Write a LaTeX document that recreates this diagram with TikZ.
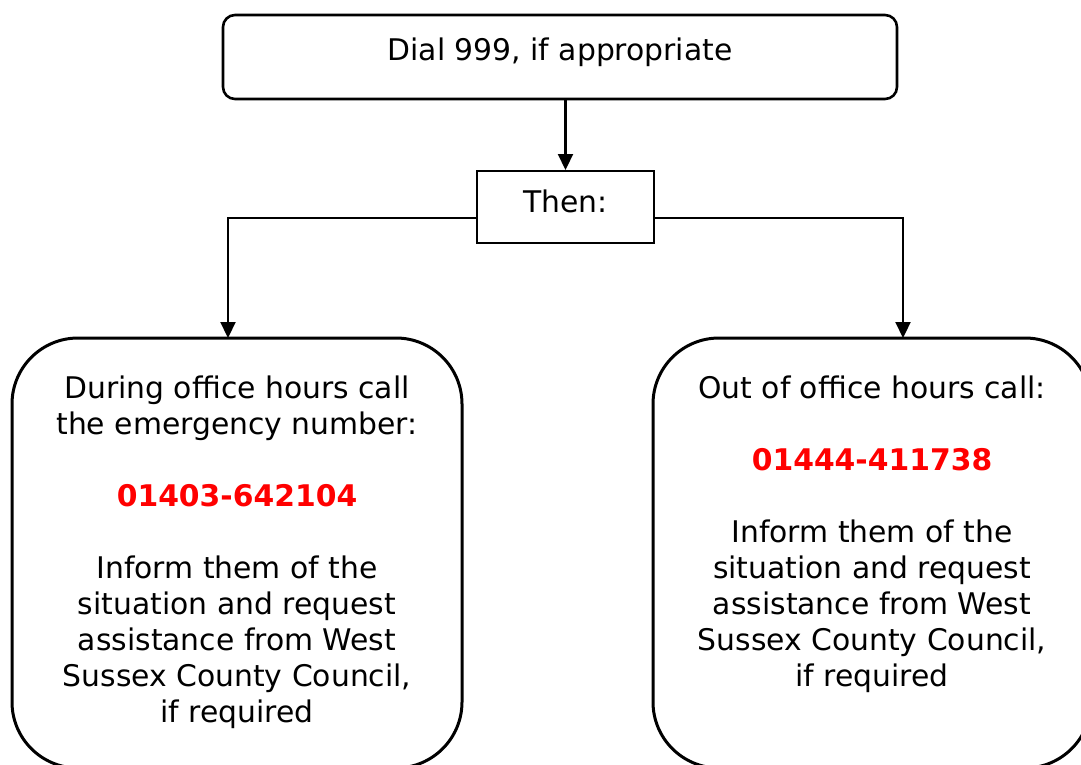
\documentclass[tikz,border=0pt]{standalone}
\usepackage{fontspec}
\setmainfont{DejaVu Sans}
\usetikzlibrary{arrows.meta,calc}
\definecolor{numred}{RGB}{255,0,0}
\begin{document}
\begin{tikzpicture}[x=1pt,y=-1pt,
  txt/.style={font=\fontsize{29.8}{36}\selectfont, align=center, inner sep=0pt},
  bigbox/.style={draw, line width=3pt, rounded corners=66pt, minimum width=450pt, minimum height=430pt, inner sep=0pt},
  conn/.style={line width=2.2pt, -{Triangle[length=16pt,width=15pt]}}]
\useasboundingbox (0,0) rectangle (1081,764);
\clip (0,0) rectangle (1081,764);
\fill[white] (0,0) rectangle (1081,764);
\node[draw, line width=2.6pt, rounded corners=12pt, minimum width=674pt, minimum height=84pt, inner sep=0pt] (top) at (560,57) {};
\node[txt] (toptxt) at (560,52) {Dial 999, if appropriate};
\node[draw, line width=2pt, minimum width=177pt, minimum height=72pt, inner sep=0pt] (then) at (565.5,207) {};
\node[txt] (thentxt) at (565.5,201) {Then:};
\node[bigbox] (left) at (237,553) {};
\node[bigbox, minimum width=438pt] (right) at (872,553) {};
\node[txt, anchor=north] (lefttxt) at (237,376) {During office hours call\\the emergency number:\\[36pt]{\bfseries\color{numred}01403-642104}\\[36pt]Inform them of the\\situation and request\\assistance from West\\Sussex County Council,\\if required};
\node[txt, anchor=north] (righttxt) at (872,376) {Out of office hours call:\\[36pt]{\bfseries\color{numred}01444-411738}\\[36pt]Inform them of the\\situation and request\\assistance from West\\Sussex County Council,\\if required};
\draw[conn] (top.south -| then.north) -- (then.north);
\coordinate (lt) at (228,338);
\coordinate (rt) at (903,338);
\draw[conn] ([yshift=-11pt]then.west) -| (lt);
\draw[conn] ([yshift=-11pt]then.east) -| (rt);
\end{tikzpicture}
\end{document}
